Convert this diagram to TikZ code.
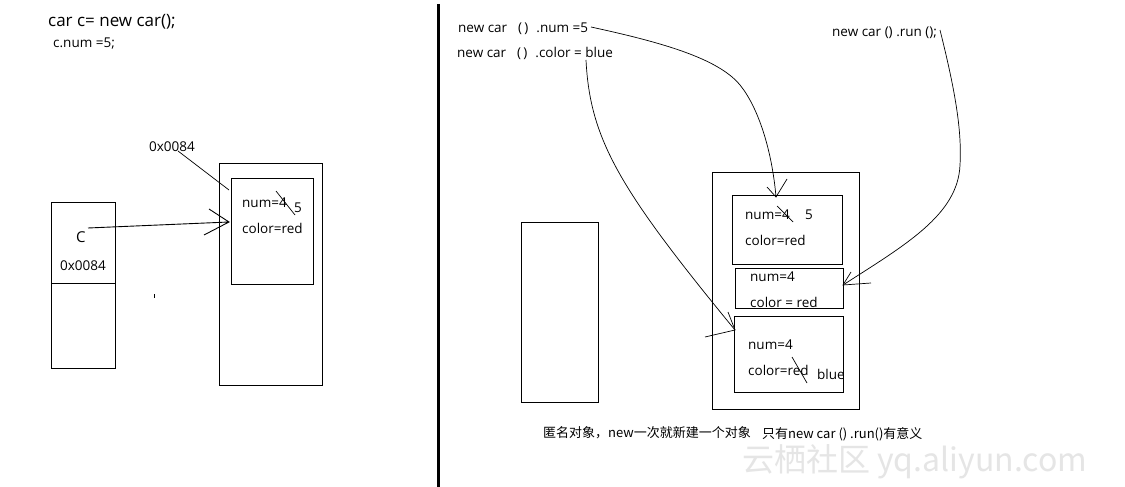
\documentclass[tikz,border=0pt]{standalone}
\usepackage{fontspec}
\setmainfont{Open Sans}
\newfontfamily\cjk{Noto Sans CJK SC}
\begin{document}
\begin{tikzpicture}[x=1pt,y=-1pt,
  ln/.style={line width=0.9pt,black},
  thin/.style={line width=0.7pt,black},
  memrect/.style={draw,line width=0.9pt,rectangle,inner sep=0pt},
  txt/.style={anchor=west,inner sep=0pt,font=\fontsize{13.5}{15}\selectfont},
  big/.style={anchor=west,inner sep=0pt,font=\fontsize{17}{19}\selectfont},
  zh/.style={anchor=west,inner sep=0pt,font=\cjk\fontsize{13}{15}\selectfont},
  wm/.style={anchor=west,inner sep=0pt,text=black!10,font=\cjk\fontsize{32}{36}\selectfont}]
\useasboundingbox (0,0) rectangle (1125,487);
\fill[white] (0,0) rectangle (1125,487);

% ---------- left half ----------
\node[big] (code1) at (48,22) {car c= new car();};
\node[txt] (code2) at (53,44) {c.num =5;};

\draw[memrect] (51,202) rectangle (115,368);
\coordinate (stackA) at (51,202);
\draw[ln] (51,283) -- (115,283);
\node[txt,font=\fontsize{15}{17}\selectfont] (cvar) at (76,237) {C};
\node[txt] (addr2) at (60,266) {0x0084};

\draw[memrect] (219,163) rectangle (322,385);
\draw[memrect] (231,178) rectangle (313,284);
\node[txt] (lnum) at (242,203) {num=4};
\node[txt] (lfive) at (294,208) {5};
\node[txt] (lcolor) at (242,228) {color=red};
\draw[thin] (276,191) -- (295,215);

\node[txt] (addr1) at (149,147) {0x0084};
\coordinate (addrend) at (229,190);
\draw[thin] (178,151) -- (addrend);

\coordinate (cstart) at (88,228);
\coordinate (ltip) at (229,222);
\coordinate (larmA) at (209,209);
\coordinate (larmB) at (204,235);
\draw[ln] (cstart) -- (ltip) (larmA) -- (ltip) -- (larmB);

\fill (153.6,294) rectangle (154.6,298);

% ---------- divider ----------
\draw[line width=2.5pt] (438.5,4) -- (438.5,487);

% ---------- right half ----------
\node[txt] (anon1) at (458,29) {new car\hspace*{11pt}(\,)\hspace*{8pt}.num =5};
\node[txt] (anon2) at (457,53) {new car\hspace*{11pt}(\,)\hspace*{8pt}.color = blue};
\node[txt] (anon3) at (832,33) {new car () .run ();};

\draw[memrect] (521,222) rectangle (598,402);
\draw[memrect] (712,172) rectangle (859,409);
\draw[memrect] (732,195) rectangle (842,264);
\draw[memrect] (735,268) rectangle (843,308);
\draw[memrect] (734,316) rectangle (843,392);

\node[txt] (bnum1) at (745,215) {num=4};
\node[txt] (bfive) at (805,215) {5};
\node[txt] (bcol1) at (745,240) {color=red};
\draw[thin] (777,206) -- (793,222);

\node[txt] (bnum2) at (750,277) {num=4};
\node[txt] (bcol2) at (750,302) {color = red};

\node[txt] (bnum3) at (748,345) {num=4};
\node[txt] (bcol3) at (748,370) {color=red};
\node[txt] (bblue) at (817,374) {blue};
\draw[thin] (792,357) -- (807,383);

% arrow: .num = 5 -> box 1
\coordinate (s1) at (591,27);
\coordinate (m1) at (740,85);
\coordinate (t1) at (776,197);
\coordinate (a1A) at (767,187);
\coordinate (a1B) at (787,179);
\draw[thin] (s1) .. controls (660,42) and (718,58) .. (m1)
  .. controls (758,107) and (772,150) .. (t1);
\draw[thin] (a1A) -- (t1) -- (a1B);

% arrow: .color = blue -> box 3
\coordinate (s2) at (586,60);
\coordinate (t2) at (735,330);
\coordinate (a2A) at (728,312);
\coordinate (a2B) at (705,337);
\draw[thin] (s2) .. controls (590,140) and (620,190) .. (t2);
\draw[thin] (a2A) -- (t2) -- (a2B);

% arrow: .run () -> box 2
\coordinate (s3) at (940,30);
\coordinate (m3) at (960,165);
\coordinate (t3) at (843,285);
\coordinate (a3A) at (851,272);
\coordinate (a3B) at (871,283);
\draw[thin] (s3) .. controls (955,90) and (962,130) .. (m3)
  .. controls (958,215) and (905,245) .. (t3);
\draw[thin] (a3A) -- (t3) -- (a3B);

% bottom texts
\node[zh] (note1) at (543,433) {匿名对象，new一次就新建一个对象};
\node[zh] (note2) at (762,434) {只有new car () .run()有意义};
\node[wm] (wmark) at (742,462) {云栖社区 yq.aliyun.com};
\end{tikzpicture}
\end{document}
